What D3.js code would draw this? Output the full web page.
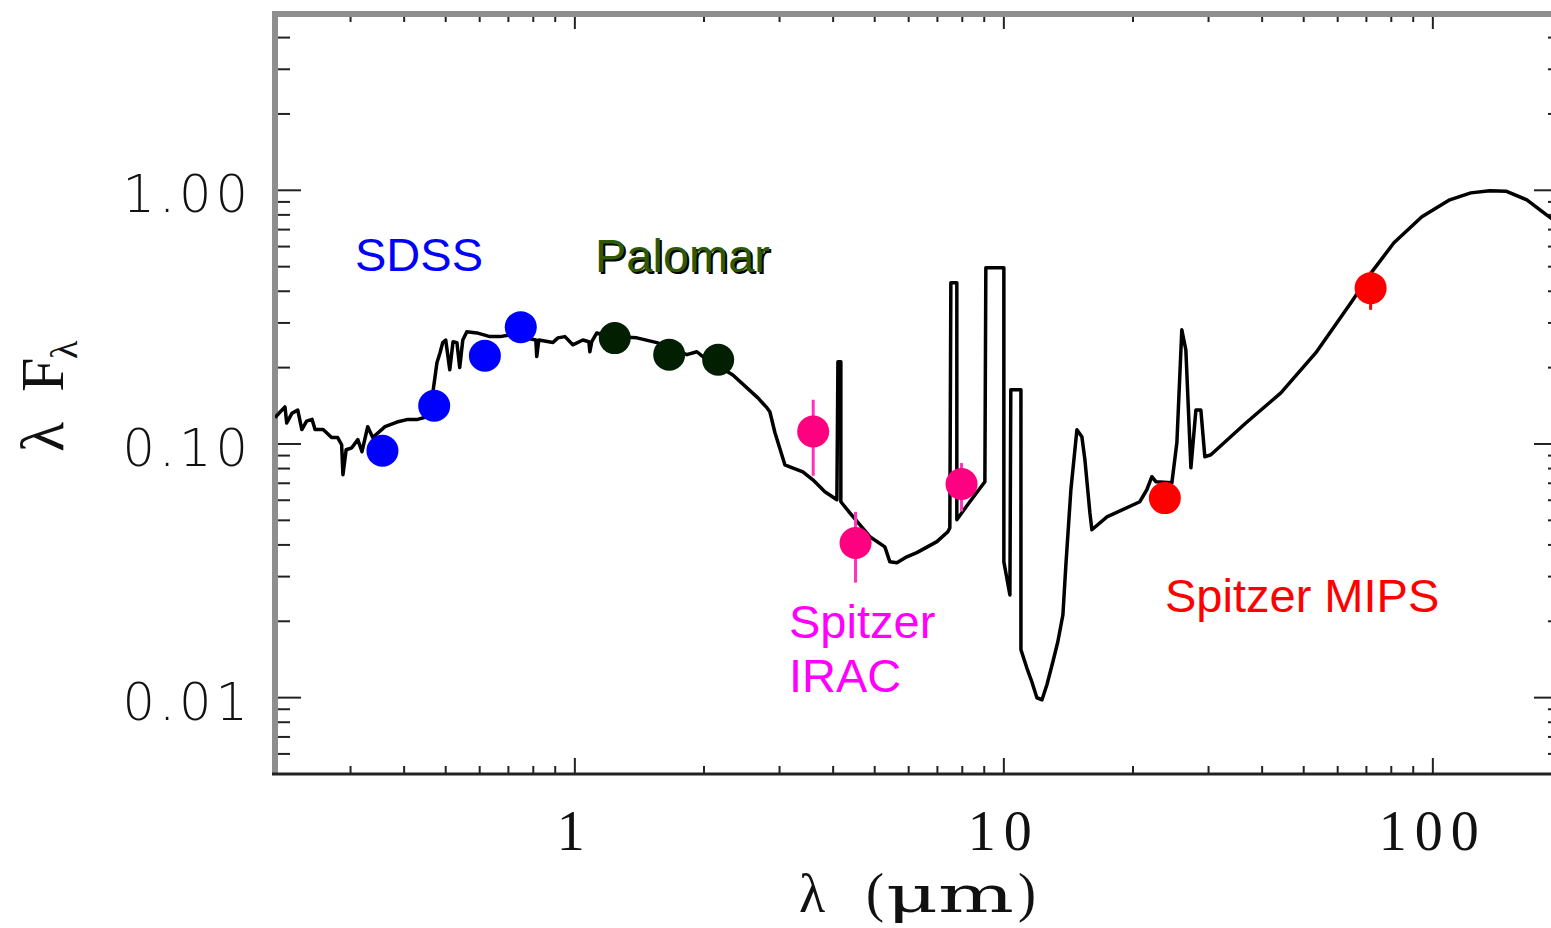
<!DOCTYPE html>
<html>
<head>
<meta charset="utf-8">
<script src="https://cdn.jsdelivr.net/npm/d3@7"></script>
<style>
  html, body { margin: 0; padding: 0; background: #fff; overflow: hidden; }
  .lbl { font-family: "Liberation Sans", Arial, sans-serif; font-size: 47px; }
</style>
</head>
<body>
<div class="chart"></div>
<script>
// SED model curve (wavelength in micron, lambda F_lambda normalised)
var sedLam = [0.200,0.205,0.211,0.213,0.219,0.226,0.231,0.237,0.244,0.248,
  0.259,0.271,0.280,0.286,0.288,0.293,0.302,0.312,0.319,0.327,
  0.329,0.338,0.361,0.385,0.408,0.430,0.452,0.467,0.477,0.485,
  0.492,0.500,0.511,0.520,0.531,0.539,0.548,0.560,0.591,0.634,
  0.669,0.705,0.744,0.786,0.811,0.815,0.824,0.889,0.913,0.948,
  0.989,1.044,1.078,1.084,1.095,1.125,1.226,1.395,1.553,1.824,
  1.925,1.988,2.335,2.671,2.803,2.848,2.926,3.087,3.171,3.400,
  3.588,3.826,4.081,4.104,4.169,4.169,4.375,4.872,5.280,5.424,
  5.631,5.941,6.269,6.981,7.404,7.483,7.524,7.769,7.769,8.331,
  9.031,9.078,10.0,10.0,10.33,10.38,10.96,10.96,11.31,11.62,
  11.94,12.27,12.60,13.01,13.36,13.73,13.95,14.33,14.80,15.20,
  15.45,15.87,16.04,17.39,20.75,21.54,22.13,22.61,24.64,25.31,
  25.99,26.56,27.29,28.03,28.79,29.41,30.38,36.65,44.23,53.38,
  64.42,72.08,81.15,94.28,109.5,122.6,135.8,148.0,165.6,185.4,200];
var sedFlux = [0.127,0.133,0.140,0.121,0.132,0.136,0.114,0.123,0.125,0.114,
  0.114,0.106,0.106,0.0993,0.0756,0.0949,0.0966,0.104,0.0932,0.112,
  0.117,0.106,0.117,0.122,0.125,0.125,0.128,0.161,0.209,0.229,
  0.251,0.257,0.196,0.253,0.251,0.200,0.257,0.277,0.274,0.265,
  0.265,0.269,0.262,0.260,0.257,0.221,0.257,0.251,0.262,0.265,
  0.246,0.257,0.253,0.231,0.253,0.274,0.265,0.262,0.251,0.225,
  0.231,0.221,0.187,0.152,0.139,0.134,0.111,0.0828,0.0813,0.0777,
  0.0722,0.0648,0.0603,0.211,0.211,0.0592,0.0535,0.0431,0.0393,0.0343,
  0.0340,0.0359,0.0373,0.0412,0.0451,0.0467,0.432,0.432,0.0503,0.0592,
  0.0710,0.495,0.495,0.0343,0.0254,0.1635,0.1635,0.01545,0.01311,0.01155,
  0.00999,0.00981,0.01124,0.01385,0.01661,0.02122,0.0334,0.0660,0.1137,0.1067,
  0.0866,0.0535,0.0459,0.0516,0.0592,0.0660,0.0743,0.0710,0.0703,0.1011,
  0.282,0.235,0.0806,0.136,0.136,0.0890,0.0907,0.121,0.159,0.229,
  0.360,0.477,0.621,0.786,0.917,0.977,0.996,0.992,0.917,0.793,0.725];

// photometry
var sdssLam = [0.356, 0.470, 0.617, 0.748];
var sdssFlux = [0.0940, 0.1414, 0.2227, 0.2888];
var palomarLam = [1.239, 1.659, 2.158];
var palomarFlux = [0.2615, 0.225, 0.2147];
var iracLam = [3.594, 4.511, 7.968];
var iracFlux = [0.1120, 0.0407, 0.0695];
var iracLo = [0.0749, 0.0284, 0.0542];
var iracHi = [0.1494, 0.0540, 0.0841];
var mipsLam = [23.73, 71.6];
var mipsFlux = [0.0612, 0.4115];
var mipsLo = [0.0612, 0.338];
var mipsHi = [0.0612, 0.4786];

// axis labels
var xTickVals = [1, 10, 100];
var xTickLabels = ['1', '10', '100'];
var yTickVals = [1, 0.1, 0.01];
var yTickLabels = ['1.00', '0.10', '0.01'];

var W = 1551, H = 928;
var margin = { top: 13, left: 275 };
var width = 1287, height = 761;

var x = d3.scaleLog().domain([0.2, 200]).range([0, width]);
var y = d3.scaleLog().domain([0.005, 5]).range([height, 0]);

var svg = d3.select('.chart').append('svg')
    .attr('width', W)
    .attr('height', H);

var g = svg.append('g')
    .attr('transform', `translate(${margin.left}, ${margin.top})`);

function isMajor(v){
    var l = Math.log10(v);
    return Math.abs(l - Math.round(l)) < 1e-6;
}

// ticks on all four sides
var xt = x.ticks();
var yt = y.ticks();
var tickCol = '#222';

g.selectAll('.xtb').data(xt).enter().append('line')
    .attr('x1', (d) => x(d)).attr('x2', (d) => x(d))
    .attr('y1', height).attr('y2', (d) => height - (isMajor(d) ? 16 : 8))
    .attr('stroke', tickCol).attr('stroke-width', 2);
g.selectAll('.xtt').data(xt).enter().append('line')
    .attr('x1', (d) => x(d)).attr('x2', (d) => x(d))
    .attr('y1', 0).attr('y2', (d) => isMajor(d) ? 16 : 9)
    .attr('stroke', tickCol).attr('stroke-width', 2);
g.selectAll('.ytl').data(yt).enter().append('line')
    .attr('x1', 0).attr('x2', (d) => isMajor(d) ? 26 : 15)
    .attr('y1', (d) => y(d)).attr('y2', (d) => y(d))
    .attr('stroke', tickCol).attr('stroke-width', 2);
g.selectAll('.ytr').data(yt).enter().append('line')
    .attr('x1', width).attr('x2', (d) => width - (isMajor(d) ? 28 : 14))
    .attr('y1', (d) => y(d)).attr('y2', (d) => y(d))
    .attr('stroke', tickCol).attr('stroke-width', 2);

// frame
g.append('line').attr('x1', 0).attr('x2', 0).attr('y1', 0).attr('y2', height)
    .attr('stroke', '#8e8e8e').attr('stroke-width', 6);
g.append('line').attr('x1', -3).attr('x2', width).attr('y1', 1).attr('y2', 1)
    .attr('stroke', '#8e8e8e').attr('stroke-width', 6);
g.append('line').attr('x1', -3).attr('x2', width).attr('y1', height).attr('y2', height)
    .attr('stroke', '#222').attr('stroke-width', 3);
g.append('line').attr('x1', width).attr('x2', width).attr('y1', 0).attr('y2', height)
    .attr('stroke', '#222').attr('stroke-width', 3);

// tick labels
svg.selectAll('.ylab').data(yTickVals).enter().append('text')
    .attr('x', 252)
    .attr('y', (d) => margin.top + y(d) + 22)
    .attr('text-anchor', 'end')
    .style('font-family', '"DejaVu Sans", sans-serif')
    .style('font-weight', 200)
    .style('font-size', '51px')
    .style('letter-spacing', '4px')
    .attr('fill', '#111')
    .text((d, i) => yTickLabels[i]);

svg.selectAll('.xlab').data(xTickVals).enter().append('text')
    .attr('x', (d) => margin.left + x(d))
    .attr('y', 850)
    .attr('text-anchor', 'middle')
    .style('font-family', '"Liberation Serif", serif')
    .style('font-size', '56px')
    .style('letter-spacing', '8px')
    .attr('fill', '#111')
    .text((d, i) => xTickLabels[i]);

// axis titles
var serif = '"Liberation Serif", "DejaVu Serif", serif';
svg.append('text').attr('x', 799).attr('y', 912)
    .style('font-family', serif).style('font-size', '54px').attr('fill', '#111').text('λ');
svg.append('text').attr('x', 866).attr('y', 911)
    .style('font-family', serif).style('font-size', '54px').attr('fill', '#111').text('(');
svg.append('text').attr('x', 886).attr('y', 912)
    .attr('textLength', 128).attr('lengthAdjust', 'spacingAndGlyphs')
    .style('font-family', '"DejaVu Serif", serif').style('font-weight', 300).style('font-size', '50px')
    .attr('fill', '#111').text('μm');
svg.append('text').attr('x', 1018).attr('y', 911)
    .style('font-family', serif).style('font-size', '54px').attr('fill', '#111').text(')');

var yt1 = svg.append('text')
    .attr('transform', 'translate(63, 452) rotate(-90)')
    .style('font-family', serif).style('font-size', '62px').attr('fill', '#111');
yt1.append('tspan').attr('x', 0).text('λ');
yt1.append('tspan').attr('x', 60).text('F');
yt1.append('tspan').attr('x', 93).attr('dy', 14).style('font-size', '38px').text('λ');

// plot area clip
svg.append('clipPath').attr('id', 'clip')
    .append('rect').attr('width', width).attr('height', height);

var plot = g.append('g').attr('clip-path', 'url(#clip)');

// SED curve
var sed = sedLam.map((l, i) => ({ lam: l, f: sedFlux[i] }));
var line = d3.line()
    .x((d) => x(d.lam))
    .y((d) => y(d.f));

plot.append('path')
    .datum(sed)
    .attr('d', line)
    .attr('fill', 'none')
    .attr('stroke', '#000')
    .attr('stroke-width', 3.5)
    .attr('stroke-linejoin', 'round');

// photometric points
function drawPoints(lams, fluxes, lo, hi, col, errCol){
    var pts = lams.map((l, i) => ({ lam: l, f: fluxes[i], lo: lo ? lo[i] : null, hi: hi ? hi[i] : null }));
    if(lo){
        plot.selectAll(null).data(pts).enter().append('line')
            .attr('x1', (d) => x(d.lam)).attr('x2', (d) => x(d.lam))
            .attr('y1', (d) => y(d.lo)).attr('y2', (d) => y(d.hi))
            .attr('stroke', errCol).attr('stroke-width', 3);
    }
    plot.selectAll(null).data(pts).enter().append('circle')
        .attr('cx', (d) => x(d.lam))
        .attr('cy', (d) => y(d.f))
        .attr('r', 16)
        .attr('fill', col);
}

drawPoints(sdssLam, sdssFlux, null, null, '#0000ff');
drawPoints(palomarLam, palomarFlux, null, null, '#021f02');
drawPoints(iracLam, iracFlux, iracLo, iracHi, '#ff0080', '#ff33b8');
drawPoints(mipsLam, mipsFlux, mipsLo, mipsHi, '#ff0000', '#ff0000');

// instrument labels
svg.append('text').attr('class', 'lbl').attr('x', 355).attr('y', 271)
    .attr('fill', '#0000ff').text('SDSS');
svg.append('text').attr('class', 'lbl').attr('x', 597).attr('y', 274)
    .attr('fill', '#000').text('Palomar');
svg.append('text').attr('class', 'lbl').attr('x', 595).attr('y', 272)
    .attr('fill', '#2e5a08').text('Palomar');
svg.append('text').attr('class', 'lbl').attr('x', 789).attr('y', 638)
    .attr('fill', '#ff00ff').text('Spitzer');
svg.append('text').attr('class', 'lbl').attr('x', 789).attr('y', 692)
    .attr('fill', '#ff00ff').text('IRAC');
svg.append('text').attr('class', 'lbl').attr('x', 1165).attr('y', 612)
    .attr('fill', '#ff0000').text('Spitzer MIPS');
</script>
</body>
</html>
